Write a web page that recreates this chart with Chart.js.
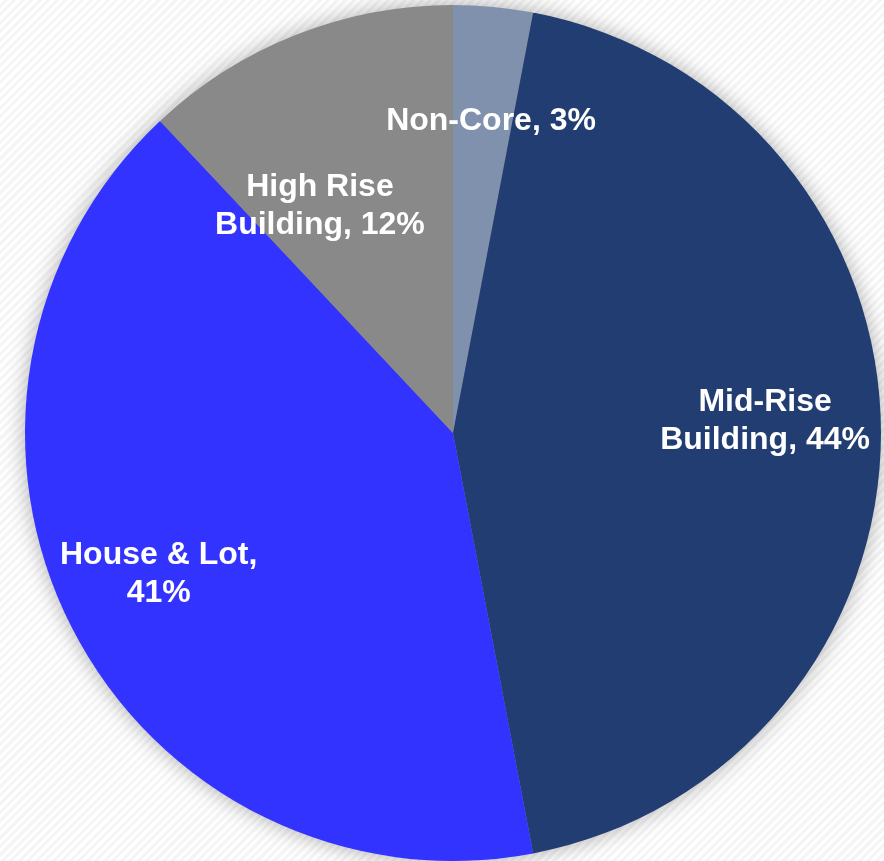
<!DOCTYPE html>
<html>
<head>
<meta charset="utf-8">
<script src="https://cdn.jsdelivr.net/npm/chart.js@4/dist/chart.umd.min.js"></script>
<style>
    html, body {
        margin: 0;
        padding: 0;
        overflow: hidden;
    }
    body {
        width: 884px;
        height: 861px;
        background: repeating-linear-gradient(135deg, #ffffff 0px, #ffffff 3px, #f5f5f5 3px, #f5f5f5 6px);
    }
    #wrap {
        position: relative;
        width: 884px;
        height: 861px;
    }
</style>
</head>
<body>
<div id="wrap"><canvas id="pieChart"></canvas></div>
<script>
const categories = ['Non-Core', 'Mid-Rise Building', 'House & Lot', 'High Rise Building'];
const shares = [3, 44, 41, 12];
const sliceColors = ['#8091ad', '#223d71', '#3333ff', '#898989'];

// where each label sits: fraction of the radius, and a small turn (degrees) off the slice middle
const labelRadius = [0.74, 0.73, 0.76, 0.62];
const labelTurn = [1.5, -2.8, 1.8, -8.5];

const FONT = 'bold 32px "Liberation Sans", Arial, sans-serif';
const LINE_H = 38;
const WRAP_W = 240;

function wrapText(ctx, text, maxW) {
    const words = text.split(' ');
    const lines = [];
    let cur = '';
    words.forEach(w => {
        const test = cur ? cur + ' ' + w : w;
        if (cur && ctx.measureText(test).width > maxW) {
            lines.push(cur);
            cur = w;
        } else {
            cur = test;
        }
    });
    if (cur) lines.push(cur);
    return lines;
}

// soft shadow under the pie
const pieShadow = {
    id: 'pieShadow',
    beforeDatasetsDraw(chart) {
        const arc = chart.getDatasetMeta(0).data[0];
        if (!arc) return;
        const { x, y, outerRadius } = arc.getProps(['x', 'y', 'outerRadius'], true);
        const ctx = chart.ctx;
        ctx.save();
        ctx.shadowColor = 'rgba(0,0,0,0.35)';
        ctx.shadowBlur = 22;
        ctx.beginPath();
        ctx.arc(x, y, outerRadius - 1, 0, Math.PI * 2);
        ctx.fillStyle = '#888';
        ctx.fill();
        ctx.restore();
    }
};

const sliceLabels = {
    id: 'sliceLabels',
    afterDatasetsDraw(chart) {
        const ctx = chart.ctx;
        const meta = chart.getDatasetMeta(0);
        ctx.save();
        ctx.font = FONT;
        ctx.fillStyle = '#ffffff';
        ctx.textAlign = 'center';
        ctx.textBaseline = 'middle';
        meta.data.forEach((arc, i) => {
            const p = arc.getProps(['x', 'y', 'startAngle', 'endAngle', 'outerRadius'], true);
            const mid = (p.startAngle + p.endAngle) / 2 + labelTurn[i] * Math.PI / 180;
            const r = p.outerRadius * labelRadius[i];
            const lx = p.x + Math.cos(mid) * r;
            const ly = p.y + Math.sin(mid) * r + 3;
            const lines = wrapText(ctx, categories[i] + ', ' + shares[i] + '%', WRAP_W);
            const top = ly - (lines.length - 1) * LINE_H / 2;
            lines.forEach((ln, k) => ctx.fillText(ln, lx, top + k * LINE_H));
        });
        ctx.restore();
    }
};

new Chart(document.getElementById('pieChart').getContext('2d'), {
    type: 'pie',
    data: {
        labels: categories,
        datasets: [{
            data: shares,
            backgroundColor: sliceColors,
            borderWidth: 0
        }]
    },
    options: {
        responsive: true,
        maintainAspectRatio: false,
        animation: false,
        layout: { padding: { left: 22, right: 0, top: 5, bottom: 0 } },
        plugins: {
            legend: { display: false },
            tooltip: { enabled: false }
        }
    },
    plugins: [pieShadow, sliceLabels]
});
</script>
</body>
</html>
